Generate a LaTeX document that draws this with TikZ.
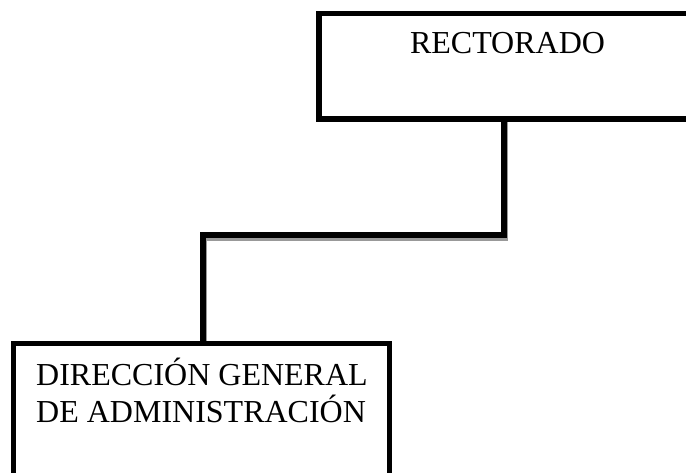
\documentclass[tikz,border=0pt]{standalone}
\usepackage{fontspec}
\setmainfont{Liberation Serif}

\tikzset{
  caja/.style={draw=black, line width=5.5pt, fill=white, inner sep=0pt},
  conector/.style={line width=5.5pt, line join=miter,
    preaction={draw=black!40, line width=5.5pt, transform canvas={shift={(1pt,-3pt)}}}},
  texto/.style={inner sep=0pt, font=\fontsize{32pt}{37pt}\selectfont}
}

\begin{document}
\begin{tikzpicture}[x=1pt,y=1pt]
\useasboundingbox (0,0) rectangle (686,-473);
% conector entre las dos cajas
\coordinate (arriba) at (504,-119);
\coordinate (abajo) at (203,-343.5);
\draw[conector] (arriba) -- (504,-235) -| (abajo);
% cajas
\node[caja, minimum width=370pt, minimum height=105.5pt] (rectorado) at (504,-66.25) {};
\node[caja, minimum width=376pt, minimum height=196pt] (dga) at (201.5,-441.5) {};
% textos
\node[texto, anchor=base] (rectoradotxt) at (507.5,-54) {RECTORADO};
\node[texto, anchor=base west, align=left] (dgatxt) at (36,-422) {DIRECCIÓN GENERAL\\DE ADMINISTRACIÓN};
\end{tikzpicture}
\end{document}
